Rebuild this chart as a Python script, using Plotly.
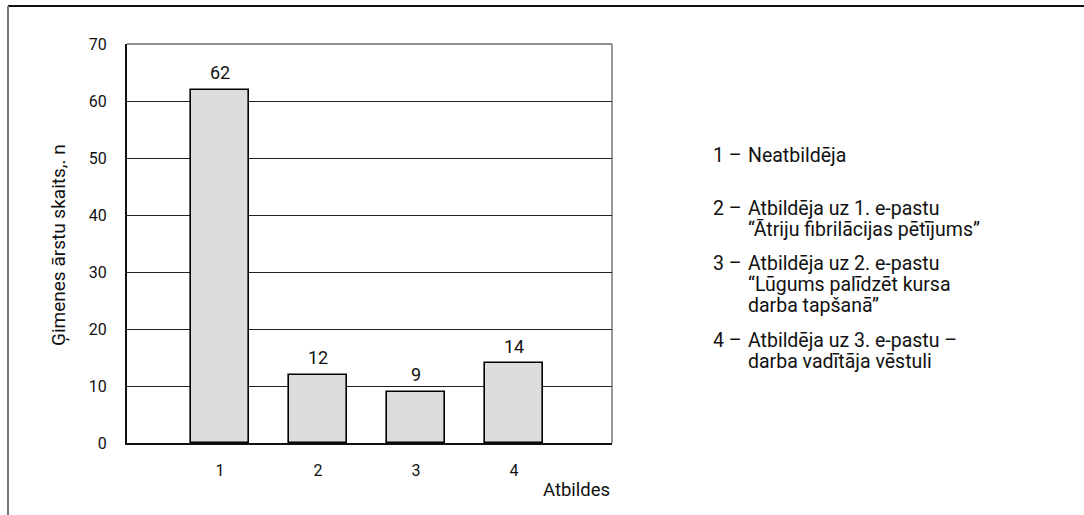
import plotly.graph_objects as go

categories = [1, 2, 3, 4]
values = [62, 12, 9, 14]
value_labels = ["62", "12", "9", "14"]
y_ticks = [0, 10, 20, 30, 40, 50, 60, 70]
y_title = "Ģimenes ārstu skaits,. n"
x_title = "Atbildes"
legend_nums = ["1 –", "2 –", "3 –", "4 –"]
legend_lines = [
    ["Neatbildēja"],
    ["Atbildēja uz 1. e-pastu", "“Ātriju fibrilācijas pētījums”"],
    ["Atbildēja uz 2. e-pastu", "“Lūgums palīdzēt kursa", "darba tapšanā”"],
    ["Atbildēja uz 3. e-pastu –", "darba vadītāja vēstuli"],
]

FONT = "Roboto"
W, H = 1084, 515
L, R, T, B = 127, 612, 44, 443  # plot area in px


def px_x(p):
    return (p - L) / (R - L)


def px_y(p):
    return (B - p) / (B - T)


fig = go.Figure()
fig.add_trace(go.Bar(
    x=categories, y=values, width=0.59,
    marker=dict(color="#dcdddf", line=dict(color="#000000", width=1.6)),
    hoverinfo="skip",
))

annotations = []
for c, v, t in zip(categories, values, value_labels):
    annotations.append(dict(x=c, y=v, xref="x", yref="y", text=t, showarrow=False,
                            yanchor="middle", yshift=17,
                            font=dict(family=FONT, size=18, color="#111")))

annotations.append(dict(x=px_x(58), y=px_y(245), xref="paper", yref="paper", text=y_title,
                        textangle=-90, showarrow=False, xanchor="center", yanchor="middle",
                        font=dict(family=FONT, size=19, color="#111")))
annotations.append(dict(x=1.0, y=px_y(490), xref="paper", yref="paper", text=x_title,
                        showarrow=False, xanchor="right", yanchor="middle",
                        font=dict(family=FONT, size=18.5, color="#111")))

item_tops = [155, 208, 263, 340]
line_step = 21
for num, lines, ytop in zip(legend_nums, legend_lines, item_tops):
    annotations.append(dict(x=px_x(711), y=px_y(ytop), xref="paper", yref="paper", text=num,
                            showarrow=False, xanchor="left", yanchor="middle",
                            font=dict(family=FONT, size=19.5, color="#111")))
    for i, ln in enumerate(lines):
        annotations.append(dict(x=px_x(746), y=px_y(ytop + i * line_step), xref="paper", yref="paper",
                                text=ln, showarrow=False, xanchor="left", yanchor="middle",
                                font=dict(family=FONT, size=19.5, color="#111")))

shapes = [
    # plot box top and right
    dict(type="line", xref="paper", yref="paper", x0=0, x1=1, y0=1, y1=1,
         line=dict(color="#222", width=1.2), layer="below"),
    dict(type="line", xref="paper", yref="paper", x0=1, x1=1, y0=0, y1=1,
         line=dict(color="#555", width=1.2), layer="below"),
    # outer frame
    dict(type="line", xref="paper", yref="paper", x0=px_x(8), x1=px_x(W + 5), y0=px_y(6), y1=px_y(6),
         line=dict(color="#111", width=2)),
    dict(type="line", xref="paper", yref="paper", x0=px_x(8), x1=px_x(8), y0=px_y(6), y1=px_y(H + 5),
         line=dict(color="#777", width=2)),
]

fig.update_layout(
    width=W, height=H,
    margin=dict(l=L, r=W - R, t=T, b=H - B),
    paper_bgcolor="white", plot_bgcolor="white",
    showlegend=False,
    bargap=0,
    annotations=annotations,
    shapes=shapes,
    font=dict(family=FONT, size=16, color="#111"),
)
fig.update_xaxes(range=[0.05, 5.0], tickvals=categories, ticktext=[str(c) for c in categories],
                 showline=True, linecolor="#111", linewidth=2.2, showgrid=False, zeroline=False,
                 ticks="", ticklabelstandoff=12, tickfont=dict(family=FONT, size=16, color="#111"),
                 fixedrange=True)
fig.update_yaxes(range=[0, 70], tickvals=y_ticks, showline=True, linecolor="#111", linewidth=2.2,
                 showgrid=True, gridcolor="#222", gridwidth=1, zeroline=False,
                 ticks="", ticklabelstandoff=15, tickfont=dict(family=FONT, size=16, color="#111"),
                 fixedrange=True)

fig.write_html("out.html", config={"displayModeBar": False},
               post_script="document.body.style.margin='0';document.body.style.overflow='hidden';")
